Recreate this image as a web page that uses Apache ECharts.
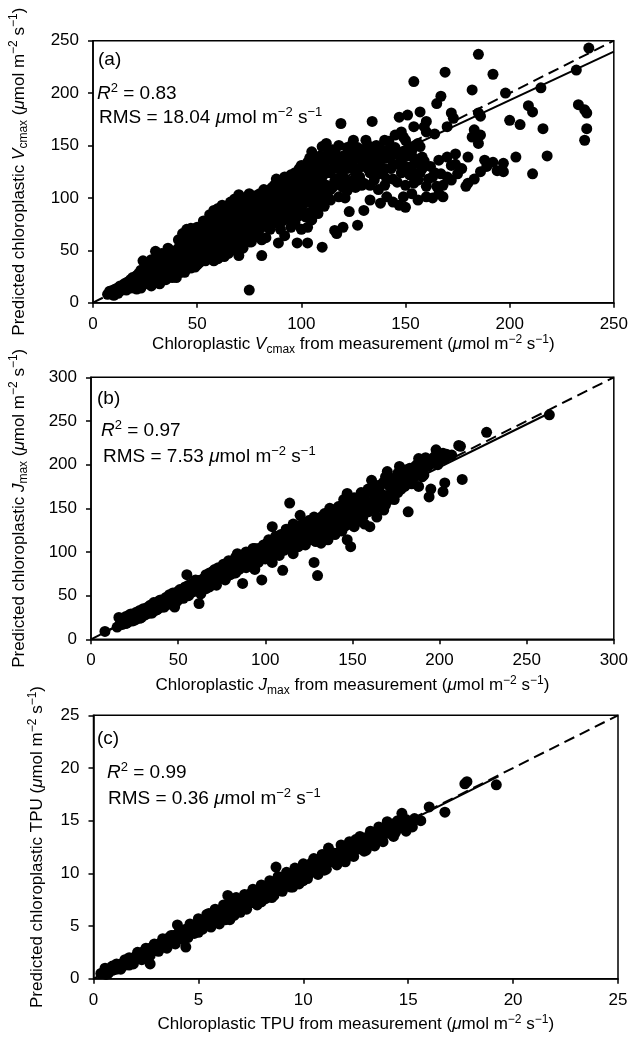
<!DOCTYPE html>
<html>
<head>
<meta charset="utf-8">
<script src="https://cdn.jsdelivr.net/npm/echarts@6/dist/echarts.min.js"></script>
<style>
  html, body { margin: 0; padding: 0; background: #fff; }
  #chart { width: 631px; height: 1039px; }
</style>
</head>
<body>
<div id="chart"></div>
<script>
// panel (a): chloroplastic Vcmax, measured vs predicted
const pointsA = [
  [7,8],[9,10],[10,12],[11,9],[12,14],[13,11],[14,16],[15,13],[16,19],[17,15],[18,22],[19,17],
  [20,24],[20,14],[21,19],[22,28],[23,22],[24,17],[24,40],[25,30],[25,24],[26,20],[27,33],[27,38],[28,26],[28,16],[29,22],[30,36],[30,29],[30,49],
  [31,40],[32,33],[32,18],[33,26],[33,47],[34,42],[34,30],[35,37],[35,22],[36,48],[36,52],[37,34],[37,27],[38,44],[38,30],[39,39],[40,50],[40,24],[40,33],
  [41,45],[41,36],[41,60],[42,55],[42,29],[43,40],[43,31],[43,66],[44,62],[44,48],[45,35],[45,70],[46,52],[46,42],[47,58],[47,40],[47,71],[48,66],[48,46],[49,34],[49,53],[50,60],[50,44],[50,72],
  [51,50],[51,38],[52,64],[52,56],[53,45],[53,78],[54,61],[54,50],[55,68],[55,44],[56,84],[56,57],[57,52],[57,73],[58,88],[58,62],[58,47],[59,67],[59,56],[60,78],[60,42],[60,90],
  [61,60],[61,71],[62,93],[62,52],[63,82],[63,65],[64,55],[64,74],[65,88],[65,47],[66,68],[66,96],[67,60],[67,80],[68,99],[68,52],[69,72],[69,87],[70,103],[70,64],[70,45],
  [71,82],[71,56],[72,94],[72,70],[73,60],[73,100],[74,78],[74,88],[75,104],[75,66],[75,12],[76,92],[76,58],[77,84],[77,72],[78,102],[78,64],[79,95],[79,80],[80,104],[80,70],[81,45],[81,88],
  [82,76],[82,98],[83,62],[83,92],[84,104],[84,82],[85,70],[85,96],[86,110],[86,86],[87,76],[87,100],[88,118],[88,92],[89,57],[89,82],[90,108],[90,70],
  [91,98],[91,88],[92,112],[92,64],[93,104],[93,80],[94,120],[94,94],[95,72],[95,108],[96,86],[96,116],[97,100],[97,76],[98,122],[98,57],[98,92],[99,110],[99,84],[100,131],[100,102],[100,70],
  [101,118],[101,94],[102,124],[102,82],[103,108],[103,57],[103,72],[104,138],[104,114],[104,96],[105,144],[105,126],[105,79],[106,104],[106,118],[107,88],[107,132],[108,112],[108,85],[109,140],[109,98],[110,149],[110,120],[110,106],[110,53],
  [8,11],[10,7],[12,9],[13,16],[15,18],[16,12],[17,20],[18,14],[19,24],[21,26],[21,13],[22,18],[23,31],[23,14],[24,26],[25,20],[26,35],[26,27],[27,18],[28,30],[28,41],[29,34],[29,19],[30,24],
  [31,33],[31,45],[32,27],[32,40],[33,36],[33,21],[34,25],[34,46],[35,31],[35,44],[36,26],[36,40],[37,50],[37,38],[38,35],[38,24],[39,46],[39,31],[40,42],[40,28],
  [41,52],[41,30],[42,38],[42,47],[43,35],[43,57],[44,41],[44,29],[45,55],[45,46],[46,38],[46,64],[47,50],[47,33],[48,56],[48,40],[49,62],[49,44],[50,52],[50,36],
  [51,68],[51,58],[52,42],[52,72],[53,52],[53,62],[54,40],[54,70],[55,56],[55,78],[56,48],[56,66],[57,82],[57,60],[58,40],[58,74],[59,80],[59,48],[60,66],[60,54],
  [61,84],[61,48],[62,76],[62,62],[63,90],[63,44],[64,66],[64,86],[65,58],[65,78],[66,50],[66,84],[67,90],[67,70],[68,64],[68,80],[69,94],[69,58],[70,84],[70,72],
  [71,98],[71,64],[72,86],[72,52],[73,78],[73,90],[74,68],[74,98],[75,84],[75,58],[76,100],[76,76],[77,94],[77,62],[78,88],[78,72],[79,102],[79,68],[80,94],[80,82],
  [81,100],[81,60],[82,86],[82,108],[83,80],[83,100],[84,94],[84,72],[85,108],[85,86],[86,100],[86,76],[87,112],[87,92],[88,84],[88,104],[89,110],[89,96],[90,116],[90,88],
  [91,106],[91,78],[92,96],[92,120],[93,114],[93,88],[94,108],[94,84],[95,122],[95,98],[96,106],[96,94],[97,124],[97,112],[98,104],[98,82],[99,128],[99,96],[100,116],[100,90],
  [101,106],[101,128],[102,112],[102,96],[103,134],[103,120],[104,104],[104,86],[105,112],[105,96],[106,136],[106,92],[107,120],[107,104],[108,128],[108,100],[109,122],[109,110],[110,136],[110,94],
  [111,130],[111,92],[112,152],[112,112],[112,124],[113,138],[113,100],[113,145],[114,124],[114,98],[114,137],[114,108],[115,146],[115,110],[115,128],[116,69],[116,132],[116,144],[116,116],[117,118],[117,66],[117,140],
  [118,150],[118,101],[118,138],[118,128],[119,171],[119,126],[119,112],[120,140],[120,110],[120,72],[120,120],
  [121,118],[121,134],[121,100],[122,107],[122,148],[122,128],[123,87],[123,132],[123,145],[123,115],[124,140],[124,150],[125,117],[125,155],[125,130],[126,124],[126,110],[127,74],[127,127],[127,138],[127,148],
  [128,145],[128,120],[129,146],[129,112],[129,130],[130,88],[130,134],[130,114],
  [131,155],[131,140],[132,142],[132,150],[132,128],[133,98],[133,124],[133,112],[134,173],[134,134],[135,117],[135,132],[135,145],[136,141],[136,150],[136,122],[137,130],[137,108],[138,95],[138,147],[138,136],[139,123],[139,140],[140,155],[140,112],[140,128],
  [141,101],[141,138],[141,118],[142,154],[142,146],[143,128],[143,140],[144,96],[144,118],[144,132],[145,160],[145,148],[146,115],[146,132],[146,142],[147,93],[147,177],[148,124],[148,135],[148,163],[149,101],[149,144],[149,158],[150,91],[150,155],[150,112],[150,130],
  [151,179],[151,140],[152,149],[152,122],[153,104],[153,130],[153,145],[154,211],[154,168],[154,114],[154,138],[155,122],[155,133],[156,98],[156,117],[156,152],[157,182],[157,149],[157,124],[158,139],[158,128],[159,168],[159,135],[160,101],[160,111],[160,173],[160,163],
  [161,118],[162,130],[163,120],[163,100],[164,161],[164,124],[165,190],[165,111],[166,104],[166,136],[167,197],[167,123],[168,101],[168,112],[169,220],[170,168],[170,139],[170,120],
  [172,131],[172,181],[172,117],[173,176],[174,142],[174,132],[175,123],[177,128],[179,111],[180,114],[180,139],[182,158],[182,203],[183,165],[183,118],[185,152],[185,181],[185,237],[186,160],[186,125],[186,178],[188,136],[189,130],[192,134],[192,218],[194,126],
  [197,133],[197,125],[198,200],[200,174],[203,139],[205,170],[209,188],[211,123],[211,182],[215,205],[216,166],[218,140],[232,222],[233,189],[236,184],[237,181],[237,166],[236,155],[238,243]
];
const oneToOneA = [[0, 0], [250, 250]];
const fitA = [[7, 14], [250, 239.5]];

// panel (b): chloroplastic Jmax
const pointsB = [
  [8,9],[15,14],[16,25],[17,20],[18,17],[19,22],[20,26],[21,19],[22,24],[23,29],[24,21],[25,27],[26,31],[26,23],[27,26],[28,33],[29,25],[30,30],[30,35],
  [31,28],[32,36],[33,31],[34,30],[34,39],[35,34],[36,38],[37,33],[38,42],[39,36],[40,40],[40,45],[41,37],[42,44],[43,40],[44,47],[45,42],[46,49],[47,44],[48,37],[48,52],[49,47],[50,55],[50,45],
  [51,50],[52,48],[53,57],[54,52],[55,74],[55,55],[56,50],[57,60],[58,54],[59,62],[60,57],[61,65],[62,41],[62,60],[63,52],[63,68],[64,62],[65,70],[66,58],[67,72],[67,64],[68,60],[69,74],[70,66],[70,78],
  [71,71],[72,62],[72,80],[73,76],[74,70],[75,82],[76,74],[77,68],[77,85],[78,79],[79,84],[80,74],[80,88],[81,80],[82,90],[83,76],[84,98],[84,85],[85,80],[86,92],[87,64],[87,86],[88,95],[89,82],[90,90],[90,98],
  [91,86],[92,100],[93,94],[94,80],[94,104],[95,97],[96,88],[97,102],[98,68],[98,95],[99,108],[100,100],[100,92],[101,110],[102,97],[103,106],[104,129],[104,88],[105,114],[106,102],[107,108],[108,96],[108,118],[109,112],[110,106],[110,79],
  [111,116],[112,104],[113,122],[114,156],[114,110],[115,118],[116,98],[116,126],[117,112],[118,122],[119,106],[120,142],[120,128],[121,114],[122,124],[123,108],[124,132],[125,120],[126,116],[127,136],[128,88],[128,124],[129,112],[130,73],[130,130],[130,118],
  [131,138],[132,110],[133,126],[134,144],[134,120],[135,132],[136,114],[137,140],[138,126],[139,148],[140,136],[140,120],[141,130],[142,152],[143,142],[144,124],[145,160],[145,136],[146,130],[147,156],[147,167],[147,114],[148,146],[149,106],[149,138],[150,150],
  [151,129],[152,144],[153,160],[154,138],[155,168],[156,150],[157,132],[158,158],[159,146],[160,170],[160,129],[161,182],[162,152],[163,164],[164,140],[165,172],[166,156],[167,178],[168,148],[169,186],[170,164],[170,192],
  [171,160],[172,163],[173,176],[174,173],[175,185],[176,168],[177,198],[178,180],[179,190],[180,175],[181,194],[182,146],[183,186],[184,178],[186,190],[187,200],[188,175],[188,207],[190,202],[191,188],[193,198],[194,163],[195,172],[196,206],[197,209],[198,217],[199,200],
  [202,169],[202,213],[203,179],[203,207],[205,210],[207,211],[211,222],[212,221],[213,183],[227,237],[263,257],
  [18,24],[20,18],[22,28],[24,26],[25,22],[27,30],[28,24],[29,32],[31,34],[32,29],[33,37],[35,30],[36,42],[37,39],[38,34],[39,44],[41,41],[42,37],[43,48],[44,40],[45,51],[46,44],[47,53],[49,43],[50,50],
  [51,57],[52,54],[53,47],[54,60],[55,50],[56,62],[57,54],[58,64],[59,55],[60,68],[61,58],[62,67],[64,57],[65,64],[66,74],[67,66],[68,76],[69,64],[70,72],[71,80],[72,70],[73,82],[74,76],[75,70],
  [76,86],[77,78],[78,72],[79,90],[80,80],[81,86],[82,76],[83,94],[84,80],[85,90],[86,84],[87,96],[88,88],[89,100],[90,84],[91,96],[92,90],[93,104],[95,90],[96,104],[97,94],[99,100],[100,108],
  [101,96],[102,114],[103,100],[104,110],[105,98],[106,118],[107,102],[108,108],[109,120],[110,114],[111,102],[112,126],[113,112],[114,120],[115,104],[116,132],[117,120],[118,110],[119,130],[120,116],
  [121,124],[122,134],[123,118],[124,126],[125,136],[126,124],[127,114],[128,140],[129,130],[131,126],[132,140],[133,134],[135,142],[136,128],[137,150],[138,134],[139,124],[140,146],
  [141,140],[142,128],[143,150],[144,144],[146,152],[148,132],[149,156],[150,140],[151,162],[152,134],[154,150],[155,156],[156,140],[157,164],[158,146],[159,172],[161,156],[162,170],[163,150],
  [164,176],[165,160],[167,166],[168,180],[169,154],[171,176],[172,184],[174,160],[175,178],[176,190],[178,172],[180,188],[182,180],[183,196],[185,184],[186,198],[189,194],[190,186],[192,208],[194,200],[200,205],[204,212]
];
const oneToOneB = [[0, 0], [300, 300]];
const fitB = [[8, 8.5], [262, 258]];

// panel (c): chloroplastic TPU
const pointsC = [
  [0.35,0.5],[0.5,0.6],[0.55,1.0],[0.6,0.9],[0.7,0.5],[0.8,1.0],[0.9,0.8],[1.0,1.1],[1.1,0.9],[1.2,1.3],[1.3,1.1],[1.4,1.5],[1.5,1.3],[1.6,1.7],[1.7,1.3],[1.8,1.9],[1.9,1.7],
  [2.0,2.1],[2.1,1.9],[2.2,2.4],[2.3,2.1],[2.4,2.6],[2.5,2.3],[2.6,2.8],[2.7,1.4],[2.7,2.5],[2.8,3.0],[2.9,2.7],[3.0,3.2],[3.1,2.9],[3.2,3.4],[3.3,3.0],[3.4,3.6],[3.5,3.3],[3.6,3.9],[3.7,3.4],[3.8,4.1],[3.9,3.7],
  [4.0,5.1],[4.0,4.2],[4.1,3.8],[4.2,4.4],[4.3,4.1],[4.4,3.0],[4.4,4.7],[4.5,4.3],[4.5,3.9],[4.6,4.9],[4.7,4.4],[4.8,5.1],[4.9,4.6],[5.0,5.3],[5.0,4.4],[5.1,4.8],[5.2,5.5],[5.3,5.0],[5.4,5.8],[5.5,5.3],[5.5,6.2],[5.6,5.9],[5.7,5.4],[5.8,6.2],[5.9,5.6],
  [6.0,6.3],[6.0,5.5],[6.1,5.9],[6.2,6.6],[6.3,6.0],[6.4,7.9],[6.4,6.7],[6.5,6.3],[6.5,5.6],[6.6,7.0],[6.7,6.4],[6.8,7.2],[6.9,6.6],[7.0,7.4],[7.0,6.5],[7.1,6.8],[7.2,7.6],[7.3,7.0],[7.4,7.8],[7.5,7.2],[7.5,8.1],[7.6,8.0],[7.7,7.4],[7.8,8.2],[7.9,7.6],
  [8.0,8.4],[8.0,7.3],[8.1,7.8],[8.2,8.6],[8.3,8.0],[8.4,8.8],[8.5,8.2],[8.5,7.7],[8.6,9.0],[8.7,10.6],[8.7,8.5],[8.8,9.2],[8.9,8.6],[9.0,9.5],[9.1,8.8],[9.2,9.7],[9.3,9.0],[9.4,9.9],[9.5,9.2],[9.5,8.7],[9.6,10.0],[9.7,9.4],[9.8,10.2],[9.9,9.6],
  [10.0,10.5],[10.0,9.3],[10.1,9.8],[10.2,10.8],[10.3,10.0],[10.4,11.0],[10.5,10.2],[10.6,11.1],[10.7,10.4],[10.8,11.3],[10.9,10.6],[11.0,11.5],[11.0,10.3],[11.1,10.9],[11.2,12.4],[11.2,11.6],[11.4,11.1],[11.5,11.9],[11.6,11.3],[11.8,12.2],[11.9,11.6],
  [12.0,12.6],[12.0,11.4],[12.1,11.9],[12.3,12.8],[12.4,12.1],[12.5,12.7],[12.5,13.2],[12.6,12.3],[12.8,13.1],[12.9,12.6],[13.0,13.4],[13.0,12.2],[13.1,12.9],[13.3,13.7],[13.4,13.2],[13.6,14.0],[13.7,13.5],[13.9,14.3],
  [14.0,13.8],[14.0,14.9],[14.2,14.1],[14.3,14.7],[14.4,13.9],[14.6,14.5],[14.7,15.7],[14.8,14.3],[14.9,15.1],[15.0,14.6],[15.2,14.4],[15.6,15.0],[16.0,16.3],[16.75,15.8],[17.7,18.5],[17.8,18.7],[19.2,18.4],
  [0.6,0.4],[0.9,1.2],[1.1,1.4],[1.3,0.9],[1.5,1.8],[1.7,2.0],[1.9,1.4],[2.1,2.5],[2.3,1.8],[2.5,2.9],[2.7,2.2],[2.9,3.3],[3.1,2.6],[3.3,3.8],[3.5,2.9],[3.7,4.1],[3.9,3.3],[4.1,4.6],[4.3,3.7],
  [4.6,5.2],[4.8,4.3],[5.0,5.7],[5.2,4.7],[5.4,6.1],[5.6,4.9],[5.8,6.6],[6.0,5.2],[6.2,7.0],[6.3,5.6],[6.5,7.3],[6.7,6.0],[6.8,7.7],[7.0,6.3],[7.2,8.0],[7.3,6.6],[7.6,8.5],[7.8,7.0],
  [8.0,8.9],[8.2,7.6],[8.4,9.3],[8.6,7.9],[8.8,9.7],[9.0,8.3],[9.2,10.1],[9.4,8.7],[9.6,10.5],[9.8,9.0],[10.0,10.9],[10.2,9.5],[10.5,11.4],[10.7,9.9],[10.9,11.8],[11.1,10.4],[11.3,12.0],
  [11.6,10.8],[11.8,12.7],[12.0,11.1],[12.2,13.0],[12.4,11.6],[12.7,13.5],[12.9,12.1],[13.2,14.0],[13.4,12.6],[13.6,14.4],[13.8,13.0],[14.1,14.5],[14.3,13.5],[14.5,15.0],[14.9,14.0],[15.3,15.2]
];
const oneToOneC = [[0, 0], [25, 25]];
const fitC = [[0.4, 0.35], [19.3, 19.2]];

const FONT = '"Liberation Sans", Arial, sans-serif';

const rich = {
  n: { fontFamily: FONT, fontSize: 17, lineHeight: 22, color: '#000' },
  i: { fontFamily: FONT, fontSize: 17, lineHeight: 22, fontStyle: 'italic', color: '#000' },
  s: { fontFamily: FONT, fontSize: 12, lineHeight: 12, verticalAlign: 'bottom', color: '#000' },
  p: { fontFamily: FONT, fontSize: 12, lineHeight: 12, verticalAlign: 'top', color: '#000' }
};

const annRich = {
  n: { fontFamily: FONT, fontSize: 19, lineHeight: 23, fill: '#000' },
  i: { fontFamily: FONT, fontSize: 19, lineHeight: 23, fontStyle: 'italic', fill: '#000' },
  p: { fontFamily: FONT, fontSize: 13, lineHeight: 13, verticalAlign: 'top', fill: '#000' }
};

const unit = '{n| (}{i|μ}{n|mol m}{p|−2}{n| s}{p|−1}{n|)}';

function xAxis(gridIndex, max, interval, name, gap) {
  return {
    gridIndex, type: 'value', min: 0, max, interval,
    name, nameLocation: 'middle', nameGap: gap,
    nameTextStyle: { rich },
    axisLine: { show: true, onZero: false, lineStyle: { color: '#000', width: 1.5 } },
    axisTick: { show: true, inside: false, length: 5, lineStyle: { color: '#000', width: 1.5 } },
    axisLabel: { color: '#000', fontSize: 17, fontFamily: FONT, margin: 13 },
    splitLine: { show: false }
  };
}

function yAxis(gridIndex, max, interval, name, gap) {
  return {
    gridIndex, type: 'value', min: 0, max, interval,
    name, nameLocation: 'middle', nameGap: gap, nameRotate: 90,
    nameTextStyle: { rich },
    axisLine: { show: true, onZero: false, lineStyle: { color: '#000', width: 1.5 } },
    axisTick: { show: true, inside: false, length: 5, lineStyle: { color: '#000', width: 1.5 } },
    axisLabel: { color: '#000', fontSize: 17, fontFamily: FONT, margin: 14 },
    splitLine: { show: false }
  };
}

function scatter(i, data) {
  return {
    type: 'scatter', xAxisIndex: i, yAxisIndex: i, data,
    symbol: 'circle', symbolSize: 11, silent: true, large: false,
    itemStyle: { color: '#000', opacity: 1 }
  };
}

function line(i, data, dashed) {
  return {
    type: 'line', xAxisIndex: i, yAxisIndex: i, data,
    symbol: 'none', silent: true,
    lineStyle: { color: '#000', width: 2, type: dashed ? [11, 6] : 'solid' }
  };
}

function label(left, top, text) {
  return { type: 'text', left, top, style: { text, rich: annRich, fill: '#000', font: '19px ' + FONT } };
}

const chart = echarts.init(document.getElementById('chart'), null, { renderer: 'canvas' });

chart.setOption({
  backgroundColor: '#fff',
  animation: false,
  grid: [
    { left: 89.5, top: 40.7, width: 526.5, height: 262, show: true, borderColor: '#000', borderWidth: 1.5, backgroundColor: 'transparent' },
    { left: 88, top: 377.3, width: 527.5, height: 262, show: true, borderColor: '#000', borderWidth: 1.5, backgroundColor: 'transparent' },
    { left: 93.5, top: 715.3, width: 524.5, height: 263.4, show: true, borderColor: '#000', borderWidth: 1.5, backgroundColor: 'transparent' }
  ],
  xAxis: [
    xAxis(0, 250, 50, '{n|Chloroplastic }{i|V}{s|cmax}{n| from measurement}' + unit, 30),
    xAxis(1, 300, 50, '{n|Chloroplastic }{i|J}{s|max}{n| from measurement}' + unit, 35),
    xAxis(2, 25, 5, '{n|Chloroplastic TPU from measurement}' + unit, 35)
  ],
  yAxis: [
    yAxis(0, 250, 50, '{n|Predicted chloroplastic }{i|V}{s|cmax}' + unit, 63),
    yAxis(1, 300, 50, '{n|Predicted chloroplastic }{i|J}{s|max}' + unit, 61),
    yAxis(2, 25, 5, '{n|Predicted chloroplastic TPU}' + unit, 45)
  ],
  series: [
    line(0, oneToOneA, true), line(0, fitA, false), scatter(0, pointsA),
    line(1, oneToOneB, true), line(1, fitB, false), scatter(1, pointsB),
    line(2, oneToOneC, true), line(2, fitC, false), scatter(2, pointsC)
  ],
  graphic: [
    label(98, 50, '{n|(a)}'),
    label(97, 82, '{i|R}{p|2}{n| = 0.83}'),
    label(99, 106, '{n|RMS = 18.04 }{i|μ}{n|mol m}{p|−2}{n| s}{p|−1}'),
    label(97, 389, '{n|(b)}'),
    label(101, 419, '{i|R}{p|2}{n| = 0.97}'),
    label(103, 445, '{n|RMS = 7.53 }{i|μ}{n|mol m}{p|−2}{n| s}{p|−1}'),
    label(97, 729, '{n|(c)}'),
    label(107, 761, '{i|R}{p|2}{n| = 0.99}'),
    label(108, 787, '{n|RMS = 0.36 }{i|μ}{n|mol m}{p|−2}{n| s}{p|−1}')
  ]
});
</script>
</body>
</html>
